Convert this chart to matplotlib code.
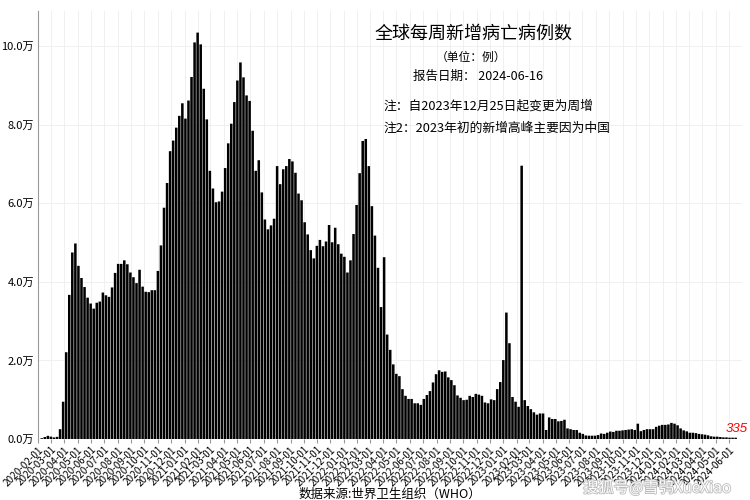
import matplotlib.pyplot as plt
import matplotlib.dates as mdates
import matplotlib.patheffects as pe
import matplotlib.ticker as mticker
import pandas as pd

plt.rcParams['font.family'] = ['Noto Sans CJK SC', 'DejaVu Sans']

# weekly new deaths, one value per week, first week ending 2020-02-09
FIRST_WEEK = "2020-02-09"
WEEKLY_DEATHS = [
    200, 500, 800, 600, 400, 550, 2500, 9500, 22100, 36700,
    47500, 49800, 44100, 41000, 38700, 36000, 34500, 33200, 34700, 35000,
    37300, 36600, 36200, 38600, 42300, 44600, 44600, 45500, 44500, 42400,
    41200, 39700, 43100, 38800, 37500, 37400, 37900, 37900, 42800, 49300,
    58900, 65200, 73300, 76000, 79300, 82300, 85500, 81600, 86200, 92200,
    101000, 103500, 100500, 89200, 81400, 68300, 63800, 60300, 60500, 63000,
    69000, 75300, 80300, 85800, 91300, 95900, 92100, 87500, 86100, 78500,
    68300, 71000, 62800, 55900, 53400, 54400, 56100, 69500, 64900, 68700,
    69500, 71300, 70700, 67800, 62500, 60800, 55200, 52100, 48100, 46000,
    49200, 50700, 49100, 50300, 54500, 50100, 53800, 49600, 47200, 46400,
    42400, 45500, 52200, 59600, 67700, 75900, 76400, 69500, 59300, 51800,
    43600, 33600, 46300, 26600, 22700, 19000, 16600, 16000, 12700, 11000,
    10200, 10200, 9100, 9100, 8700, 10200, 11200, 12200, 14400, 16500,
    17500, 17100, 17200, 15700, 15000, 13700, 11100, 10500, 9900, 10000,
    11000, 10700, 11500, 11300, 11000, 9300, 9100, 10100, 9900, 12700,
    14500, 20100, 32200, 24400, 10700, 9500, 8200, 69600, 9900, 8400,
    7600, 6800, 6200, 6500, 6500, 2300, 5500, 5100, 5100, 4500,
    4600, 4900, 2700, 2500, 2300, 2300, 1600, 1300, 900, 850,
    850, 850, 1000, 1400, 1300, 1600, 1900, 1800, 2100, 2100,
    2200, 2300, 2400, 2500, 2300, 3900, 2000, 2300, 2500, 2500,
    2500, 3100, 3400, 3600, 3600, 3700, 4100, 3900, 3500, 2700,
    2200, 1950, 1600, 1600, 1500, 1300, 1200, 1100, 930, 680,
    600, 600, 510, 420, 420, 340, 340, 335,
]
TICK_START = "2020-02-01"
TICK_END = "2024-06-01"
Y_TICKS = [0, 20000, 40000, 60000, 80000, 100000]

TITLE = "全球每周新增病亡病例数"
UNIT_TEXT = "（单位：例）"
REPORT_TEXT = "报告日期： 2024-06-16"
NOTE_1 = "注：自2023年12月25日起变更为周增"
NOTE_2 = "注2：2023年初的新增高峰主要因为中国"
SOURCE_TEXT = "数据来源:世界卫生组织（WHO）"
WATERMARK = "搜狐号@雪鸮XueXiao"

_BAR_COLOR = "#000000"
_GRID_COLOR = "#eeeeee"
_AXIS_COLOR = "#999999"


def _main():
    weeks = pd.date_range(FIRST_WEEK, periods=len(WEEKLY_DEATHS), freq="7D")
    month_ticks = pd.date_range(TICK_START, TICK_END, freq="MS")

    fig = plt.figure(figsize=(7.5, 5.0), dpi=100)
    ax = fig.add_axes([0.051, 0.122, 0.938, 0.856])

    ax.bar(weeks, WEEKLY_DEATHS, width=5.8, color=_BAR_COLOR, linewidth=0,
           snap=False, zorder=2)

    ax.set_xlim(pd.Timestamp("2020-02-01"), pd.Timestamp("2024-06-30"))
    ax.set_ylim(0, 109000)

    ax.set_xticks(month_ticks)
    ax.xaxis.set_major_formatter(mdates.DateFormatter("%Y-%m-%d"))
    for lbl in ax.get_xticklabels():
        lbl.set_rotation(45)
        lbl.set_ha("right")
        lbl.set_rotation_mode("anchor")
        lbl.set_fontsize(7.2)
    ax.set_yticks(Y_TICKS)
    ax.yaxis.set_major_formatter(mticker.FuncFormatter(lambda v, p: "%.1f万" % (v / 10000)))
    ax.tick_params(axis="y", labelsize=8, length=0, pad=3)
    ax.tick_params(axis="x", length=3, color=_AXIS_COLOR, pad=1)

    ax.grid(True, color=_GRID_COLOR, linewidth=0.6, zorder=0)
    ax.set_axisbelow(True)
    for side in ("top", "right", "bottom"):
        ax.spines[side].set_visible(False)
    ax.spines["left"].set_color(_AXIS_COLOR)
    ax.spines["left"].set_linewidth(0.8)

    ax.set_xlabel(SOURCE_TEXT, fontsize=9, labelpad=0)

    # last value in red
    ax.annotate(str(WEEKLY_DEATHS[-1]), (weeks[-1], WEEKLY_DEATHS[-1]),
                xytext=(1, 2), textcoords="offset points", ha="center", va="bottom",
                color="red", fontsize=9.5, style="italic", family="Liberation Sans")

    fig.text(474 / 750, 1 - 34 / 500, TITLE, fontsize=13, ha="center", va="center")
    fig.text(471 / 750, 1 - 57 / 500, UNIT_TEXT, fontsize=8.5, ha="center", va="center")
    fig.text(478 / 750, 1 - 76 / 500, REPORT_TEXT, fontsize=9, ha="center", va="center")
    fig.text(383 / 750, 1 - 106 / 500, NOTE_1, fontsize=9.2, ha="left", va="center")
    fig.text(383 / 750, 1 - 128 / 500, NOTE_2, fontsize=9.2, ha="left", va="center")

    fig.text(657 / 750, 1 - 488 / 500, WATERMARK, fontsize=11, ha="center", va="center",
             color="white", path_effects=[pe.withStroke(linewidth=1.2, foreground="#bbbbbb")])

    fig.savefig("out.png", dpi=100)


if __name__ == "__main__":
    _main()
